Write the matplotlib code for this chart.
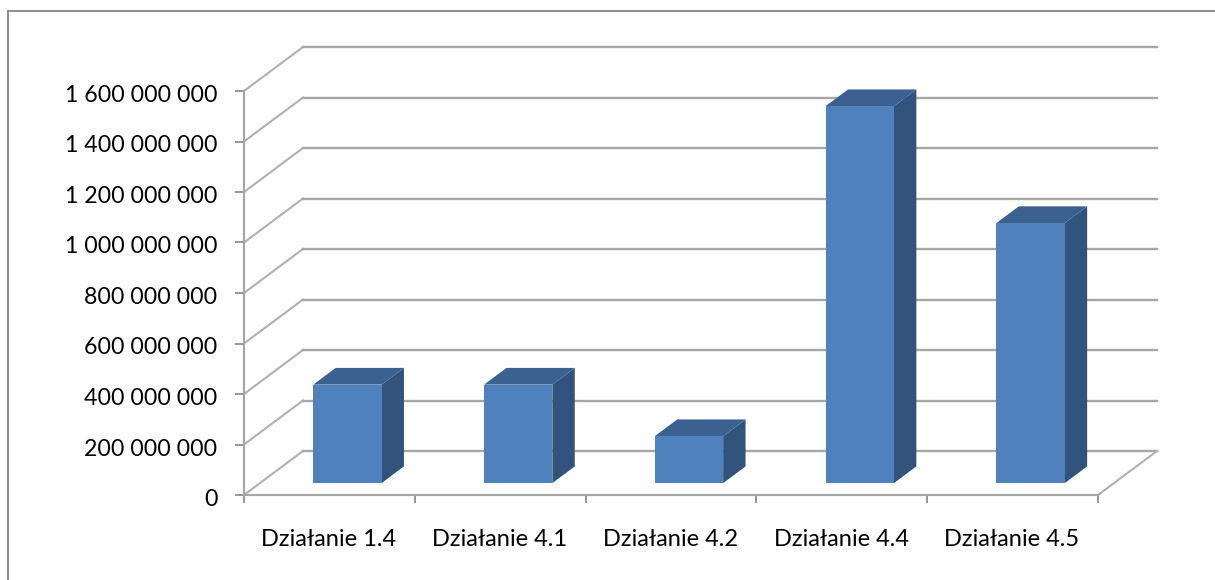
import matplotlib
matplotlib.use('Agg')
import matplotlib.pyplot as plt
from matplotlib.patches import Polygon
from matplotlib.transforms import ScaledTranslation

plt.rcParams['font.family'] = ['Lato', 'DejaVu Sans']

categories = ['Działanie 1.4', 'Działanie 4.1', 'Działanie 4.2', 'Działanie 4.4', 'Działanie 4.5']
values = [390000000, 390000000, 186000000, 1493000000, 1030000000]
y_ticks = [0, 200000000, 400000000, 600000000, 800000000, 1000000000, 1200000000, 1400000000, 1600000000]

W, H = 1215, 580
# depth of the 3d floor in data units (59 px across, 44 px up)
DX = 59 / 170.8
DY = 44 / 50.5 * 200000000
BAR_W = 0.40
D0, D1 = 0.27, 0.65


def proj(x, y, d):
    return x + d * DX, y + d * DY


def fmt(v):
    return f'{v:,}'.replace(',', ' ')


fig = plt.figure(figsize=(W / 100, H / 100), dpi=100)
ax = fig.add_axes([244 / W, 1 - 495 / H, 854 / W, 404 / H])
ax.set_xlim(0, len(categories))
ax.set_ylim(0, 1600000000)
ax.patch.set_visible(False)
for s in ['top', 'right']:
    ax.spines[s].set_visible(False)
for s in ['left', 'bottom']:
    ax.spines[s].set_color('#a6a6a6')
    ax.spines[s].set_linewidth(1.6)

ax.set_yticks(y_ticks)
ax.set_yticklabels([fmt(v) for v in y_ticks], fontsize=16.7, color='black')
ax.set_xticks(range(len(categories) + 1))
ax.set_xticklabels([])
ax.tick_params(axis='y', length=6.5, width=1.3, color='#8c8c8c', pad=12.5)
ax.tick_params(axis='x', length=5.8, width=1.3, color='#8c8c8c')

# numbers sit a little below their ticks
down = ScaledTranslation(0, -2.5 / 100, fig.dpi_scale_trans)
for lab in ax.get_yticklabels():
    lab.set_transform(lab.get_transform() + down)

n = len(categories)
for v in y_ticks:
    x0, y0 = proj(0, v, 0)
    x1, y1 = proj(0, v, 1)
    x2, y2 = proj(n, v, 1)
    ax.plot([x0, x1], [y0, y1], color='#b0b0b0', lw=1.5, clip_on=False, zorder=1)
    ax.plot([x1, x2], [y1, y2], color='#a6a6a6', lw=1.7, clip_on=False, zorder=1)
# right edge of floor
ax.plot([n, proj(n, 0, 1)[0]], [0, proj(n, 0, 1)[1]], color='#b0b0b0', lw=1.5, clip_on=False, zorder=1)

for i, (cat, v) in enumerate(zip(categories, values)):
    left = i + 0.512 - BAR_W / 2
    right = left + BAR_W
    front = [proj(left, 0, D0), proj(right, 0, D0), proj(right, v, D0), proj(left, v, D0)]
    side = [proj(right, 0, D0), proj(right, 0, D1), proj(right, v, D1), proj(right, v, D0)]
    top = [proj(left, v, D0), proj(right, v, D0), proj(right, v, D1), proj(left, v, D1)]
    ax.add_patch(Polygon(side, fc='#32547c', ec='none', clip_on=False, zorder=3))
    ax.add_patch(Polygon(top, fc='#3a6190', ec='none', clip_on=False, zorder=3))
    ax.add_patch(Polygon(front, fc='#4f81bd', ec='none', clip_on=False, zorder=4))
    ax.annotate(cat, xy=(i + 0.5, 0), xycoords='data', xytext=(-0.5, -44 * 0.72), textcoords='offset points',
                ha='center', va='center', fontsize=17, color='black', annotation_clip=False)

# chart frame, only the left and top edges are inside the picture
fig.add_artist(plt.Line2D([7.5 / W, 7.5 / W], [0, 1 - 10.5 / H], color='#8c8c8c', lw=1.4))
fig.add_artist(plt.Line2D([7.5 / W, 1], [1 - 10.5 / H, 1 - 10.5 / H], color='#8c8c8c', lw=1.4))

fig.savefig('out.png', dpi=100)
